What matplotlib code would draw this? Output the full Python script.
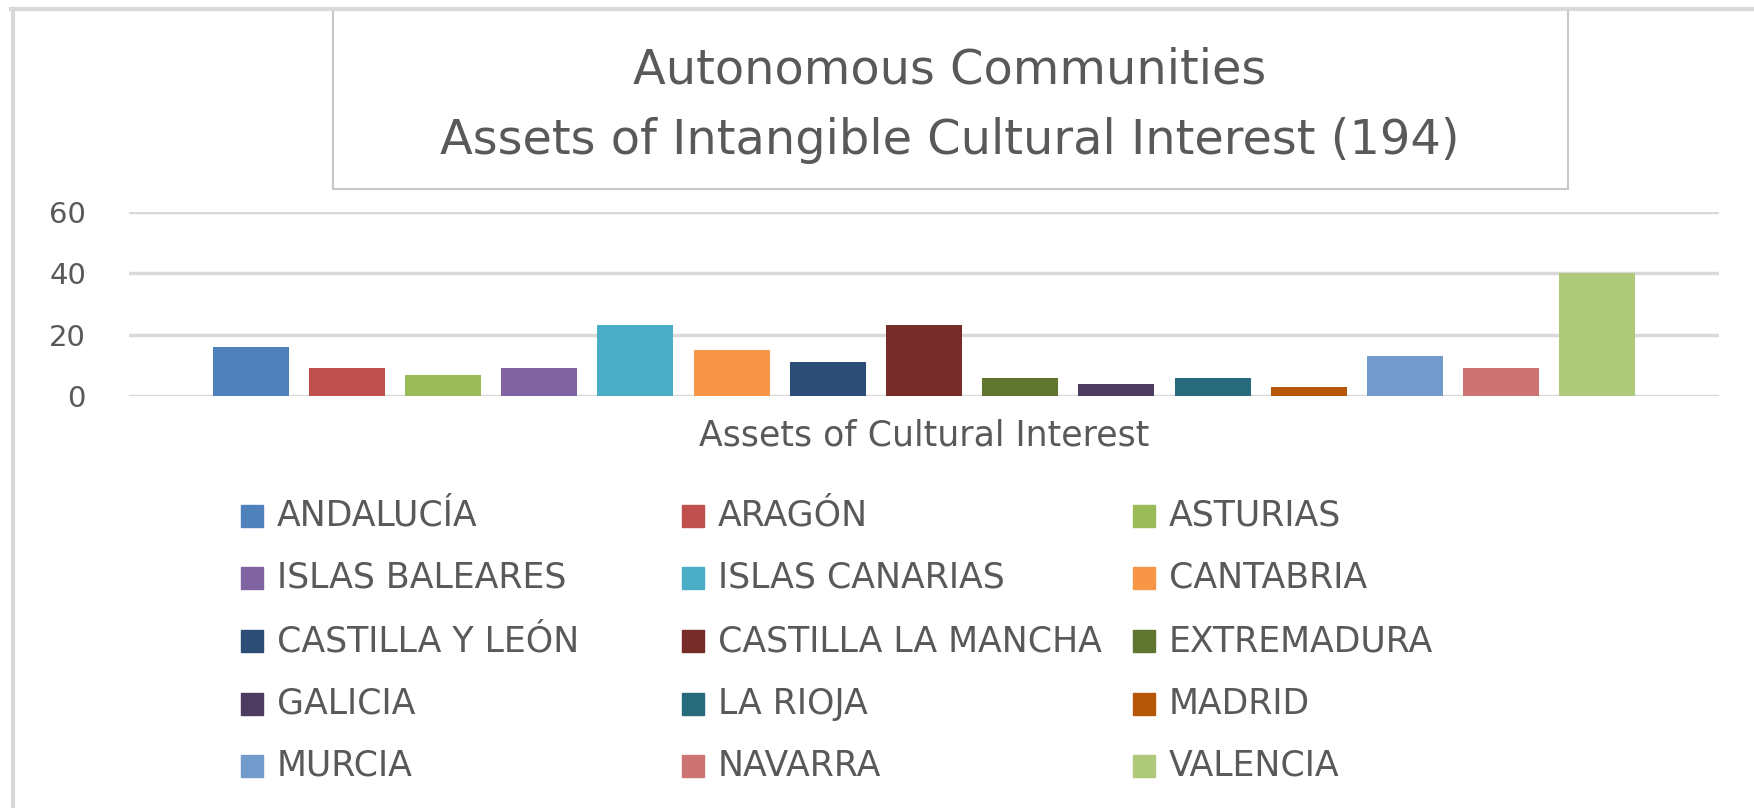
import matplotlib.pyplot as plt
from matplotlib.patches import Rectangle
from matplotlib.lines import Line2D

communities = ["ANDALUCÍA", "ARAGÓN", "ASTURIAS", "ISLAS BALEARES", "ISLAS CANARIAS",
               "CANTABRIA", "CASTILLA Y LEÓN", "CASTILLA LA MANCHA", "EXTREMADURA",
               "GALICIA", "LA RIOJA", "MADRID", "MURCIA", "NAVARRA", "VALENCIA"]
assets = [16, 9, 7, 9, 23, 15, 11, 23, 6, 4, 6, 3, 13, 9, 40]
colors = ["#4F81BD", "#C0504D", "#9BBB59", "#8064A2", "#4BACC6", "#F79646", "#2C4D75",
          "#772C2A", "#5F7530", "#4D3B62", "#276A7C", "#B65708", "#729ACA", "#CD7371",
          "#AFC97A"]
yticks = [0, 20, 40, 60]

plt.rcParams['font.family'] = ['DejaVu Sans']
W, H = 1754, 808
fig = plt.figure(figsize=(W / 100, H / 100), dpi=100)
text_color = "#595959"

# outer frame (top and left only)
fig.add_artist(Line2D([11 / W, 1], [1 - 9 / H, 1 - 9 / H], color="#d9d9d9", lw=3))
fig.add_artist(Line2D([13 / W, 13 / W], [0, 1 - 9 / H], color="#d9d9d9", lw=3))

# title box
fig.add_artist(Rectangle((333 / W, 1 - 189 / H), (1568 - 333) / W, (189 - 9) / H,
                         transform=fig.transFigure, fill=False, ec="#c8c8c8", lw=1.5))
fig.text(950 / W, 1 - 70 / H, "Autonomous Communities", ha="center", va="center",
         fontsize=34.5, color=text_color)
fig.text(950 / W, 1 - 140 / H, "Assets of Intangible Cultural Interest (194)", ha="center",
         va="center", fontsize=34.5, color=text_color)

# bar chart
ax = fig.add_axes([129 / W, 1 - 396 / H, (1719 - 129) / W, (396 - 212) / H])
x = list(range(len(assets)))
ax.bar(x, assets, width=0.79, color=colors, zorder=3)
ax.set_xlim(-1.265, len(assets) - 1 + 1.265)
ax.set_ylim(0, 60)
ax.set_yticks(yticks)
ax.set_xticks([])
ax.grid(axis="y", color="#d9d9d9", lw=2.5, zorder=0)
for s in ax.spines.values():
    s.set_visible(False)
ax.tick_params(axis="y", length=0, pad=31, labelsize=21, labelcolor=text_color)
ax.set_xlabel("Assets of Cultural Interest", fontsize=25, color=text_color, labelpad=16)

# legend, row by row in three columns
col_x = [241, 682, 1133]
row_y = [516, 578, 641, 704, 766]
for i, (name, c) in enumerate(zip(communities, colors)):
    r, k = divmod(i, 3)
    fig.add_artist(Rectangle((col_x[k] / W, 1 - (row_y[r] + 11) / H), 22 / W, 22 / H,
                             transform=fig.transFigure, color=c))
    fig.text((col_x[k] + 36) / W, 1 - row_y[r] / H, name, ha="left", va="center",
             fontsize=25, color=text_color)

fig.savefig("out.png", dpi=100, facecolor="white")
